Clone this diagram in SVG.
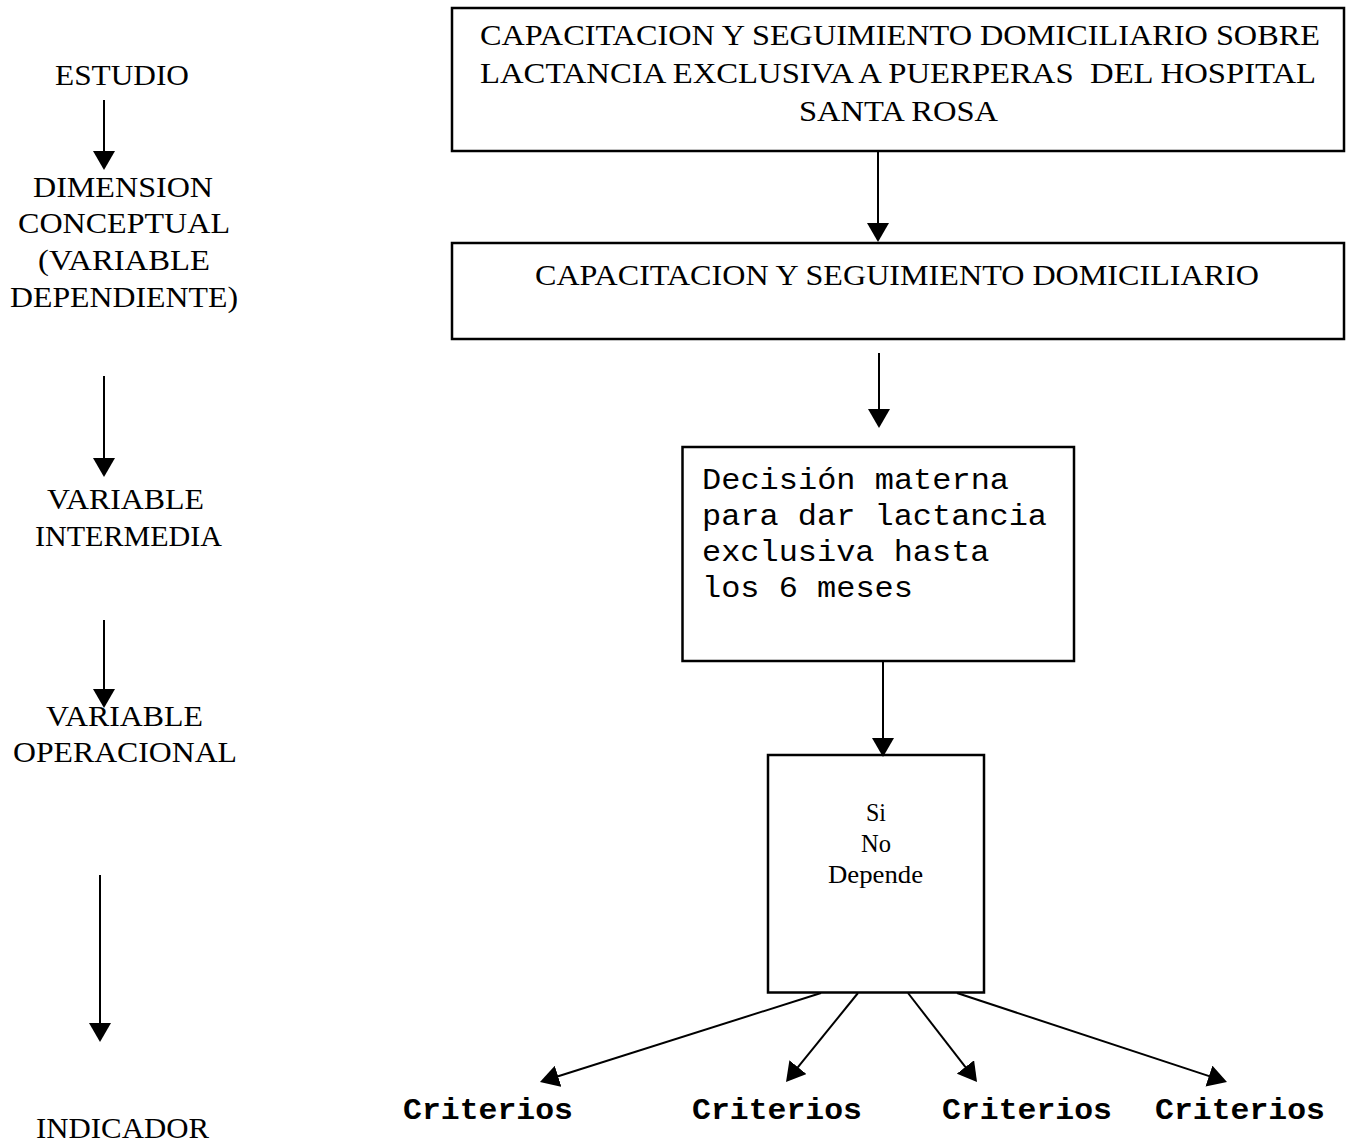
<svg xmlns="http://www.w3.org/2000/svg" width="1348" height="1143" viewBox="0 0 1348 1143">
<style>
.lbl{font-family:"Liberation Serif","Times New Roman",serif;font-size:30px;fill:#000;text-anchor:middle}
.sm{font-family:"Liberation Serif","Times New Roman",serif;font-size:25px;fill:#000;text-anchor:middle}
.mono{font-family:"Liberation Mono","Courier New",monospace;font-size:30px;fill:#000}
.monob{font-family:"Liberation Mono","Courier New",monospace;font-size:30px;font-weight:bold;fill:#000}
.box{fill:#fff;stroke:#000;stroke-width:2.5}
.con{stroke:#000;stroke-width:2;fill:none;marker-end:url(#ah)}
</style>
<defs>
<marker id="ah" viewBox="0 0 19 22" refX="9" refY="11" markerWidth="19" markerHeight="22" markerUnits="userSpaceOnUse" orient="auto">
<path d="M0,0 L19,11 L0,22 z" fill="#000"/>
</marker>
</defs>
<rect width="1348" height="1143" fill="#fff"/>

<g id="left-labels">
<text class="lbl" x="122" y="85" textLength="134" lengthAdjust="spacingAndGlyphs">ESTUDIO</text>
<text class="lbl" x="123" y="197" textLength="180" lengthAdjust="spacingAndGlyphs">DIMENSION</text>
<text class="lbl" x="124" y="233" textLength="212" lengthAdjust="spacingAndGlyphs">CONCEPTUAL</text>
<text class="lbl" x="124" y="270" textLength="172" lengthAdjust="spacingAndGlyphs">(VARIABLE</text>
<text class="lbl" x="124" y="307" textLength="228" lengthAdjust="spacingAndGlyphs">DEPENDIENTE)</text>
<text class="lbl" x="125.5" y="509" textLength="157" lengthAdjust="spacingAndGlyphs">VARIABLE</text>
<text class="lbl" x="128.5" y="546" textLength="187" lengthAdjust="spacingAndGlyphs">INTERMEDIA</text>
<text class="lbl" x="124.5" y="726" textLength="157" lengthAdjust="spacingAndGlyphs">VARIABLE</text>
<text class="lbl" x="125" y="762" textLength="224" lengthAdjust="spacingAndGlyphs">OPERACIONAL</text>
<text class="lbl" x="122.5" y="1138" textLength="173" lengthAdjust="spacingAndGlyphs">INDICADOR</text>
</g>

<g id="node-estudio">
<rect class="box" x="452" y="8" width="892" height="143"/>
<text class="lbl" x="900" y="45" textLength="840" lengthAdjust="spacingAndGlyphs">CAPACITACION Y SEGUIMIENTO DOMICILIARIO SOBRE</text>
<text class="lbl" x="898" y="83" textLength="836" lengthAdjust="spacingAndGlyphs" xml:space="preserve">LACTANCIA EXCLUSIVA A PUERPERAS  DEL HOSPITAL</text>
<text class="lbl" x="898.5" y="121" textLength="199" lengthAdjust="spacingAndGlyphs">SANTA ROSA</text>
</g>

<g id="node-dimension">
<rect class="box" x="452" y="243" width="892" height="96"/>
<text class="lbl" x="897" y="285" textLength="724" lengthAdjust="spacingAndGlyphs">CAPACITACION Y SEGUIMIENTO DOMICILIARIO</text>
</g>

<g id="node-intermedia">
<rect class="box" x="682.5" y="447" width="391.5" height="214"/>
<text class="mono" x="702" y="489" textLength="307" lengthAdjust="spacingAndGlyphs">Decisión materna</text>
<text class="mono" x="702" y="525" textLength="345" lengthAdjust="spacingAndGlyphs">para dar lactancia</text>
<text class="mono" x="702" y="561" textLength="287.5" lengthAdjust="spacingAndGlyphs">exclusiva hasta</text>
<text class="mono" x="702" y="597" textLength="211" lengthAdjust="spacingAndGlyphs">los 6 meses</text>
</g>

<g id="node-operacional">
<rect class="box" x="768" y="755" width="216" height="237.5"/>
<text class="sm" x="876" y="821" textLength="20" lengthAdjust="spacingAndGlyphs">Si</text>
<text class="sm" x="876" y="852" textLength="30" lengthAdjust="spacingAndGlyphs">No</text>
<text class="sm" x="875.5" y="883" textLength="95" lengthAdjust="spacingAndGlyphs">Depende</text>
</g>

<g id="node-criterios">
<text class="monob" x="403" y="1119" textLength="170" lengthAdjust="spacingAndGlyphs">Criterios</text>
<text class="monob" x="692" y="1119" textLength="170" lengthAdjust="spacingAndGlyphs">Criterios</text>
<text class="monob" x="942" y="1119" textLength="170" lengthAdjust="spacingAndGlyphs">Criterios</text>
<text class="monob" x="1155" y="1119" textLength="170" lengthAdjust="spacingAndGlyphs">Criterios</text>
</g>

<g id="connectors">
<line class="con" x1="104" y1="100" x2="104" y2="160"/>
<line class="con" x1="104" y1="376" x2="104" y2="467"/>
<line class="con" x1="104" y1="620" x2="104" y2="698"/>
<line class="con" x1="100" y1="875" x2="100" y2="1032"/>
<line class="con" x1="878" y1="150" x2="878" y2="232"/>
<line class="con" x1="879" y1="353" x2="879" y2="418"/>
<line class="con" x1="883" y1="661" x2="883" y2="747"/>
<line class="con" x1="821" y1="993" x2="549.5" y2="1079"/>
<line class="con" x1="858" y1="993" x2="792.3" y2="1074.2"/>
<line class="con" x1="908" y1="993" x2="970.9" y2="1074.1"/>
<line class="con" x1="957" y1="993" x2="1217.5" y2="1078.9"/>
</g>
</svg>
